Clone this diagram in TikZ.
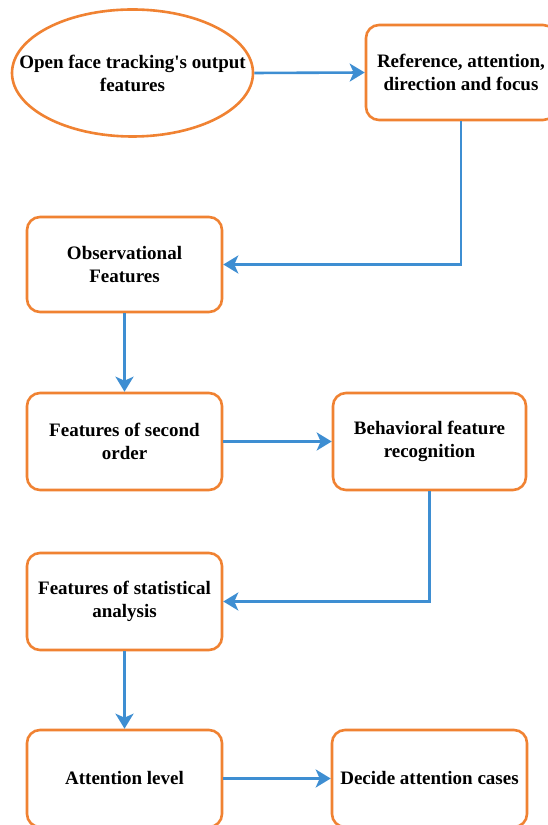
\documentclass[tikz,border=0pt]{standalone}
\usepackage{fontspec}
\setmainfont{Liberation Serif}[Ligatures=TeXOff]
\usetikzlibrary{arrows.meta,calc,shapes.geometric}
\definecolor{boxorange}{RGB}{240,130,50}
\definecolor{lineblue}{RGB}{62,142,210}
\tikzset{
  stepbox/.style={draw=boxorange, line width=2.6pt, rounded corners=13pt, fill=white,
    align=center, inner sep=0pt, font=\fontsize{19}{23}\selectfont\bfseries},
  ovalbox/.style={draw=boxorange, line width=2.6pt, ellipse, fill=white, inner sep=0pt},
  txt/.style={align=center, inner sep=0pt, font=\fontsize{19}{23}\selectfont\bfseries},
  conn/.style={draw=lineblue, line width=2.6pt,
    -{Stealth[length=15pt,width=18pt,inset=4pt]}}
}
\begin{document}
\begin{tikzpicture}[x=1pt,y=1pt]
\useasboundingbox (0,0) rectangle (547,825);
\fill[white] (0,0) rectangle (547,825);
\node[ovalbox, minimum width=241pt, minimum height=127pt] (e1) at (132.5,752) {};
\node[txt] (e1t) at (e1.center) {Open face tracking's output\\features};
\node[stepbox, minimum width=190pt, minimum height=95pt] (b2) at (461,752.5) {Reference, attention,\\direction and focus};
\node[stepbox, minimum width=195pt, minimum height=95pt] (b3) at (124.5,560.5) {Observational\\Features};
\node[stepbox, minimum width=195pt, minimum height=97pt] (b4) at (124.5,383.5) {Features of second\\order};
\node[stepbox, minimum width=193pt, minimum height=97pt] (b5) at (429.5,383.5) {Behavioral feature\\recognition};
\node[stepbox, minimum width=195pt, minimum height=97pt] (b6) at (124.5,223.5) {Features of statistical\\analysis};
\node[stepbox, minimum width=195pt, minimum height=97pt] (b7) at (124.5,46.5) {Attention level};
\node[stepbox, minimum width=195pt, minimum height=97pt] (b8) at (429.5,46.5) {Decide attention cases};
\draw[conn] (e1.east) -- (b2.west);
\draw[conn] (b2.south) |- (b3.east);
\draw[conn] (b3.south) -- (b4.north);
\draw[conn] (b4.east) -- (b5.west);
\draw[conn] (b5.south) |- (b6.east);
\draw[conn] (b6.south) -- (b7.north);
\draw[conn] (b7.east) -- (b8.west);
\end{tikzpicture}
\end{document}
